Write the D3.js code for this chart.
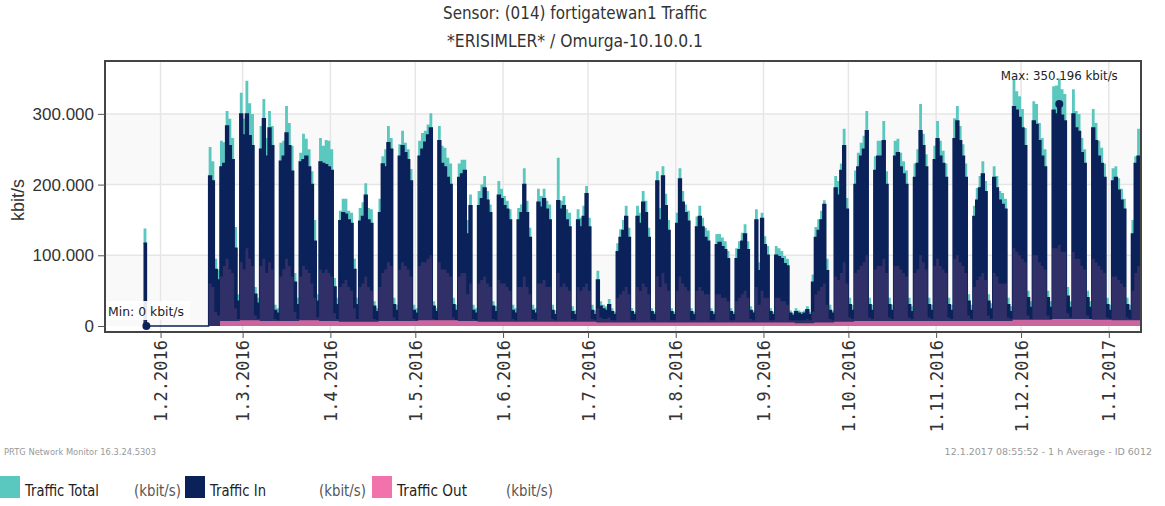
<!DOCTYPE html>
<html>
<head>
<meta charset="utf-8">
<script src="https://cdn.jsdelivr.net/npm/d3@7"></script>
<style>
html, body { margin: 0; padding: 0; background: #fff; }
svg { display: block; }
</style>
</head>
<body>
<svg id="chart" width="1165" height="506"></svg>
<script>
// daily peaks in 1000 kbit/s, one row per week, first row starts Monday 25.1.2016
var totalTraffic = [
	null, 138, 0, 0, 0, 0, 0,
	0, 0, 0, 0, 0, 0, 0,
	0, 0, 0, 0, 0, 0, 0,
	0, 0, 0, 253, 233, 95, 80,
	262, 260, 304, 293, 266, 140, 45,
	330, 293, 347, 315, 300, 55, 40,
	283, 321, 266, 304, 283, 30, 25,
	259, 262, 311, 287, 255, 75, 40,
	245, 272, 265, 250, 219, 150, 45,
	266, 255, 263, 262, 250, 68, 40,
	163, 180, 180, 163, 160, 95, 40,
	167, 175, 202, 167, 165, 35, 25,
	180, 240, 250, 283, 266, 40, 30,
	257, 276, 259, 250, 222, 30, 25,
	262, 273, 276, 285, 301, 35, 25,
	283, 255, 252, 238, 230, 40, 30,
	230, 235, 235, 150, 186, 30, 25,
	191, 200, 212, 191, 172, 35, 28,
	205, 194, 184, 177, 165, 30, 25,
	167, 172, 223, 177, 139, 30, 25,
	194, 184, 194, 177, 172, 30, 22,
	238, 177, 184, 165, 160, 28, 22,
	165, 153, 170, 198, 153, 30, 22,
	78, 35, 30, 28, 38, 25, 20,
	117, 137, 150, 170, 139, 25, 20,
	170, 160, 191, 177, 139, 25, 20,
	219, 167, 226, 187, 150, 25, 20,
	160, 223, 191, 172, 163, 25, 20,
	155, 170, 153, 139, 135, 25, 20,
	130, 130, 125, 120, 106, 25, 20,
	110, 120, 132, 144, 120, 28, 22,
	165, 90, 160, 127, 113, 25, 20,
	113, 110, 106, 99, 95, 22, 18,
	25, 22, 20, 22, 28, 20, 73,
	140, 151, 163, 178, 95, 30, 22,
	212, 205, 230, 279, 181, 40, 30,
	220, 245, 259, 269, 304, 40, 30,
	240, 262, 262, 290, 219, 40, 30,
	262, 265, 245, 233, 220, 40, 28,
	230, 250, 314, 272, 243, 40, 30,
	255, 290, 262, 248, 230, 40, 30,
	294, 311, 283, 257, 230, 45, 30,
	170, 195, 212, 233, 205, 45, 32,
	226, 212, 191, 188, 180, 40, 28,
	349, 332, 325, 307, 280, 50, 35,
	318, 314, 287, 266, 250, 50, 35,
	339, 340, 350.196, 335, 328, 55, 35,
	335, 304, 300, 266, 250, 50, 35,
	307, 287, 262, 252, 230, 40, 30,
	223, 226, 209, 194, 180, 40, 30,
	150, 240, 279, 60
];

var trafficIn = [
	null, 117, 0, 0, 0, 0, 0,
	0, 0, 0, 0, 0, 0, 0,
	0, 0, 0, 0, 0, 0, 0,
	0, 0, 0, 212, 205, 80, 65,
	225, 230, 283, 255, 235, 110, 35,
	300, 270, 300, 269, 255, 45, 32,
	250, 293, 240, 280, 255, 22, 18,
	233, 240, 273, 255, 219, 62, 30,
	232, 235, 240, 225, 200, 120, 35,
	232, 230, 228, 225, 220, 55, 30,
	149, 160, 158, 150, 145, 80, 30,
	148, 155, 185, 150, 145, 28, 20,
	160, 229, 225, 259, 250, 30, 22,
	240, 255, 245, 235, 205, 22, 18,
	240, 250, 260, 270, 280, 28, 20,
	262, 230, 225, 210, 200, 30, 22,
	210, 215, 220, 130, 170, 22, 18,
	170, 180, 195, 178, 160, 28, 20,
	185, 180, 170, 165, 150, 22, 18,
	150, 160, 200, 160, 125, 22, 18,
	175, 168, 180, 165, 150, 22, 16,
	177, 165, 170, 150, 140, 20, 16,
	150, 140, 155, 187, 140, 22, 16,
	65, 28, 24, 22, 30, 20, 16,
	105, 125, 135, 155, 125, 20, 16,
	155, 145, 175, 160, 125, 20, 16,
	205, 150, 212, 170, 135, 20, 16,
	145, 208, 175, 160, 148, 20, 16,
	140, 155, 140, 125, 120, 20, 16,
	115, 118, 112, 108, 95, 20, 16,
	95, 108, 120, 130, 108, 22, 18,
	150, 78, 152, 115, 100, 20, 16,
	100, 98, 95, 88, 85, 18, 15,
	20, 18, 16, 18, 23, 16, 62,
	125, 135, 150, 172, 78, 22, 18,
	195, 185, 220, 255, 165, 30, 22,
	200, 225, 240, 250, 276, 30, 22,
	220, 240, 240, 262, 200, 30, 22,
	240, 245, 225, 215, 200, 30, 20,
	210, 230, 276, 255, 225, 30, 22,
	235, 265, 240, 230, 210, 30, 22,
	265, 290, 262, 240, 210, 35, 22,
	155, 178, 195, 215, 190, 35, 24,
	210, 195, 178, 172, 165, 30, 20,
	310, 305, 295, 280, 255, 40, 26,
	290, 285, 262, 240, 225, 40, 26,
	305, 300, 314, 298, 290, 42, 26,
	300, 280, 275, 245, 230, 40, 26,
	280, 262, 240, 230, 210, 30, 22,
	205, 210, 192, 178, 165, 30, 22,
	130, 230, 240, 50
];

var trafficOut = [
	null, 20, 0, 0, 0, 0, 0,
	0, 0, 0, 0, 0, 0, 0,
	0, 0, 0, 0, 0, 0, 0,
	0, 0, 0, 60, 55, 20, 15,
	70, 85, 95, 80, 75, 25, 10,
	90, 80, 110, 95, 85, 15, 10,
	85, 95, 75, 90, 80, 10, 8,
	70, 80, 95, 85, 70, 20, 10,
	70, 85, 80, 75, 60, 40, 12,
	80, 75, 80, 75, 70, 18, 10,
	55, 60, 65, 55, 50, 25, 10,
	55, 60, 70, 55, 50, 10, 8,
	55, 75, 80, 90, 85, 12, 8,
	80, 90, 85, 80, 70, 10, 8,
	85, 90, 90, 95, 100, 10, 8,
	90, 80, 80, 75, 70, 12, 8,
	70, 75, 75, 45, 60, 10, 8,
	60, 65, 70, 60, 55, 10, 8,
	65, 60, 60, 55, 50, 10, 8,
	55, 55, 70, 55, 45, 10, 8,
	60, 60, 65, 55, 55, 10, 8,
	75, 55, 60, 55, 50, 10, 8,
	55, 50, 55, 60, 50, 10, 8,
	25, 12, 10, 10, 12, 8, 8,
	40, 45, 50, 55, 45, 8, 8,
	55, 50, 60, 55, 45, 8, 8,
	70, 55, 75, 60, 50, 8, 8,
	50, 70, 60, 55, 50, 8, 8,
	50, 55, 50, 45, 45, 8, 8,
	45, 45, 40, 40, 35, 8, 8,
	35, 40, 45, 50, 40, 10, 8,
	55, 30, 50, 40, 40, 8, 8,
	40, 40, 35, 35, 30, 8, 8,
	8, 8, 8, 8, 10, 8, 20,
	45, 50, 55, 60, 30, 10, 8,
	70, 65, 75, 90, 60, 12, 10,
	75, 80, 85, 90, 100, 12, 10,
	80, 85, 85, 95, 75, 12, 10,
	85, 85, 80, 75, 70, 12, 10,
	75, 80, 100, 90, 80, 12, 10,
	85, 95, 85, 80, 75, 12, 10,
	95, 100, 90, 85, 75, 15, 10,
	55, 65, 70, 75, 65, 15, 10,
	75, 70, 60, 60, 60, 12, 10,
	110, 105, 100, 95, 90, 15, 10,
	100, 100, 90, 85, 80, 15, 10,
	110, 110, 115, 105, 105, 18, 12,
	105, 95, 95, 85, 80, 15, 10,
	95, 90, 85, 80, 75, 12, 10,
	70, 70, 65, 60, 55, 12, 10,
	50, 75, 85, 20
];

// typical night-time out level per week (the pink strip at the bottom)
var outFloor = [
	0, 0, 0, 0, 7, 8, 7, 7, 8, 7, 6, 6, 7, 7, 8, 8, 7, 6, 6, 6,
	6, 6, 6, 5, 5, 5, 5, 5, 5, 5, 5, 5, 5, 4, 5, 6, 7, 7, 7, 7,
	7, 7, 7, 7, 9, 9, 10, 10, 9, 8, 8
];

var yTicks = [ 0, 100, 200, 300 ];
var seriesNames = [ "Traffic Total", "Traffic In", "Traffic Out" ];
var seriesColors = [ "#5bc8bf", "#0a2259", "#f273ac" ];

var svg = d3.select("#chart");
var dataStart = new Date(2016, 0, 25);
var x = d3.scaleTime().domain([ new Date(2016, 0, 12, 9), new Date(2017, 0, 12, 9) ]).range([ 105, 1141 ]);
var y = d3.scaleLinear().domain([ -8.5, 374.8 ]).range([ 332, 61 ]);
var plotTop = y.range()[1], plotBottom = y.range()[0], plotLeft = x.range()[0], plotRight = x.range()[1];

var locale = d3.formatLocale({ decimal: ",", thousands: ".", grouping: [ 3 ], currency: [ "", "" ] });
var fmt = locale.format(",.0f");

var days = totalTraffic.map(function(v, i) {
	return { date: d3.timeDay.offset(dataStart, i), total: v, inn: trafficIn[i], out: trafficOut[i] };
});
var last = days[days.length - 1];
days.push({ date: x.domain()[1], total: last.total, inn: last.inn, out: last.out });

var weeks = outFloor.map(function(v, i) {
	return { date: d3.timeWeek.offset(dataStart, i), v: v };
});
weeks.push({ date: x.domain()[1], v: outFloor[outFloor.length - 1] });

// plot background bands
svg.append("g").selectAll("rect").data([ [ 0, 100 ], [ 200, 300 ] ]).enter().append("rect")
	.attr("x", plotLeft).attr("width", plotRight - plotLeft)
	.attr("y", function(d) { return y(d[1]); })
	.attr("height", function(d) { return y(d[0]) - y(d[1]); })
	.attr("fill", "#f9f9f9");

var grid = svg.append("g").attr("stroke", "#e6e6e6").attr("stroke-width", 1.5);
grid.selectAll(".h").data(yTicks.slice(1)).enter().append("line")
	.attr("x1", plotLeft).attr("x2", plotRight)
	.attr("y1", function(d) { return y(d); }).attr("y2", function(d) { return y(d); });
grid.selectAll(".v").data(x.ticks(d3.timeMonth.every(1))).enter().append("line")
	.attr("y1", plotTop).attr("y2", plotBottom)
	.attr("x1", function(d) { return x(d); }).attr("x2", function(d) { return x(d); });

var areaOf = function(key) {
	return d3.area().curve(d3.curveStepAfter)
		.defined(function(d) { return d[key] != null; })
		.x(function(d) { return x(d.date); })
		.y0(y(0))
		.y1(function(d) { return y(d[key]); });
};

var plot = svg.append("g");
plot.append("path").datum(days).attr("d", areaOf("total")).attr("fill", seriesColors[0]);
plot.append("path").datum(days).attr("d", areaOf("inn")).attr("fill", seriesColors[1]);
plot.append("path").datum(days)
	.attr("d", d3.line().curve(d3.curveStepAfter)
		.defined(function(d) { return d.inn != null; })
		.x(function(d) { return x(d.date); })
		.y(function(d) { return y(d.inn); }))
	.attr("fill", "none").attr("stroke", seriesColors[1]).attr("stroke-width", 1.5);
plot.append("path").datum(days).attr("d", areaOf("out")).attr("fill", seriesColors[2]).attr("opacity", 0.17);
plot.append("path").datum(weeks).attr("d", areaOf("v")).attr("fill", seriesColors[2]).attr("opacity", 0.8);

// min / max markers
var valid = days.slice(0, -1).filter(function(d) { return d.total != null; });
var minDay = valid[d3.minIndex(valid, function(d) { return d.total; })];
var maxDay = valid[d3.maxIndex(valid, function(d) { return d.total; })];

plot.append("circle").attr("cx", x(minDay.date)).attr("cy", y(minDay.total)).attr("r", 4).attr("fill", seriesColors[1]);
plot.append("rect").attr("x", plotLeft + 1).attr("y", y(minDay.total) - 25).attr("width", 84).attr("height", 19)
	.attr("fill", "#fff").attr("opacity", 0.9);
plot.append("text").attr("x", plotLeft + 3).attr("y", y(minDay.total) - 10)
	.attr("font-family", "DejaVu Sans").attr("font-size", 13).attr("fill", "#222")
	.attr("textLength", 76).attr("lengthAdjust", "spacingAndGlyphs")
	.text("Min: " + fmt(minDay.total * 1000) + " kbit/s");

var maxX = x(d3.timeHour.offset(maxDay.date, 12));
plot.append("circle").attr("cx", maxX).attr("cy", y(maxDay.inn)).attr("r", 4).attr("fill", seriesColors[1]);
plot.append("text").attr("x", maxX).attr("y", 80).attr("text-anchor", "middle")
	.attr("font-family", "DejaVu Sans").attr("font-size", 13).attr("fill", "#222")
	.attr("textLength", 117).attr("lengthAdjust", "spacingAndGlyphs")
	.text("Max: " + fmt(maxDay.total * 1000) + " kbit/s");

// frame
svg.append("rect").attr("x", plotLeft).attr("y", plotTop).attr("width", plotRight - plotLeft).attr("height", plotBottom - plotTop)
	.attr("fill", "none").attr("stroke", "#444").attr("stroke-width", 2);

var yAxis = svg.append("g").attr("transform", "translate(" + plotLeft + ",0)")
	.call(d3.axisLeft(y).tickValues(yTicks).tickSize(7).tickPadding(4).tickFormat(function(d) { return fmt(d * 1000); }));
yAxis.select(".domain").remove();
yAxis.selectAll("line").attr("stroke", "#555");
yAxis.selectAll("text").attr("font-family", "Liberation Sans").attr("font-size", 17).attr("fill", "#333");

var xAxis = svg.append("g").attr("transform", "translate(0," + plotBottom + ")")
	.call(d3.axisBottom(x).ticks(d3.timeMonth.every(1)).tickSize(6).tickFormat(d3.timeFormat("%-d.%-m.%Y")));
xAxis.select(".domain").remove();
xAxis.selectAll("line").attr("stroke", "#555");
xAxis.selectAll("text")
	.attr("font-family", "DejaVu Sans Mono").attr("font-size", 17).attr("fill", "#333")
	.attr("text-anchor", "end").attr("transform", "rotate(-90)")
	.attr("x", -8).attr("y", 0).attr("dy", "0.36em");

svg.append("text").attr("transform", "translate(24,200) rotate(-90)").attr("text-anchor", "middle")
	.attr("font-family", "Liberation Sans").attr("font-size", 18).attr("fill", "#333").text("kbit/s");

// title
var title = svg.append("g").attr("font-family", "DejaVu Sans").attr("font-size", 17).attr("fill", "#333");
title.append("text").attr("x", 443).attr("y", 19).attr("textLength", 264).attr("lengthAdjust", "spacingAndGlyphs")
	.text("Sensor: (014) fortigatewan1 Traffic");
title.append("text").attr("x", 447).attr("y", 47).attr("textLength", 256).attr("lengthAdjust", "spacingAndGlyphs")
	.text("*ERISIMLER* / Omurga-10.10.0.1");

// footer
var foot = svg.append("g").attr("font-family", "DejaVu Sans").attr("font-size", 9.5).attr("fill", "#999");
foot.append("text").attr("x", 4).attr("y", 455).attr("textLength", 152).attr("lengthAdjust", "spacingAndGlyphs")
	.text("PRTG Network Monitor 16.3.24.5303");
foot.append("text").attr("x", 1152).attr("y", 455).attr("text-anchor", "end")
	.text("12.1.2017 08:55:52 - 1 h Average - ID 6012");

// legend
var legendX = [ 0, 185, 372 ];
var nameWidths = [ 74, 56, 70 ];
var legend = svg.append("g").selectAll("g").data(seriesNames).enter().append("g")
	.attr("transform", function(d, i) { return "translate(" + legendX[i] + ",0)"; });
legend.append("rect").attr("y", 476).attr("width", 20).attr("height", 22)
	.attr("fill", function(d, i) { return seriesColors[i]; });
legend.append("text").attr("x", 25).attr("y", 496)
	.attr("font-family", "DejaVu Sans").attr("font-size", 16).attr("fill", "#222")
	.attr("textLength", function(d, i) { return nameWidths[i]; }).attr("lengthAdjust", "spacingAndGlyphs")
	.text(function(d) { return d; });
legend.append("text").attr("x", 134).attr("y", 496)
	.attr("font-family", "DejaVu Sans").attr("font-size", 16).attr("fill", "#555")
	.attr("textLength", 47).attr("lengthAdjust", "spacingAndGlyphs")
	.text("(kbit/s)");
</script>
</body>
</html>
